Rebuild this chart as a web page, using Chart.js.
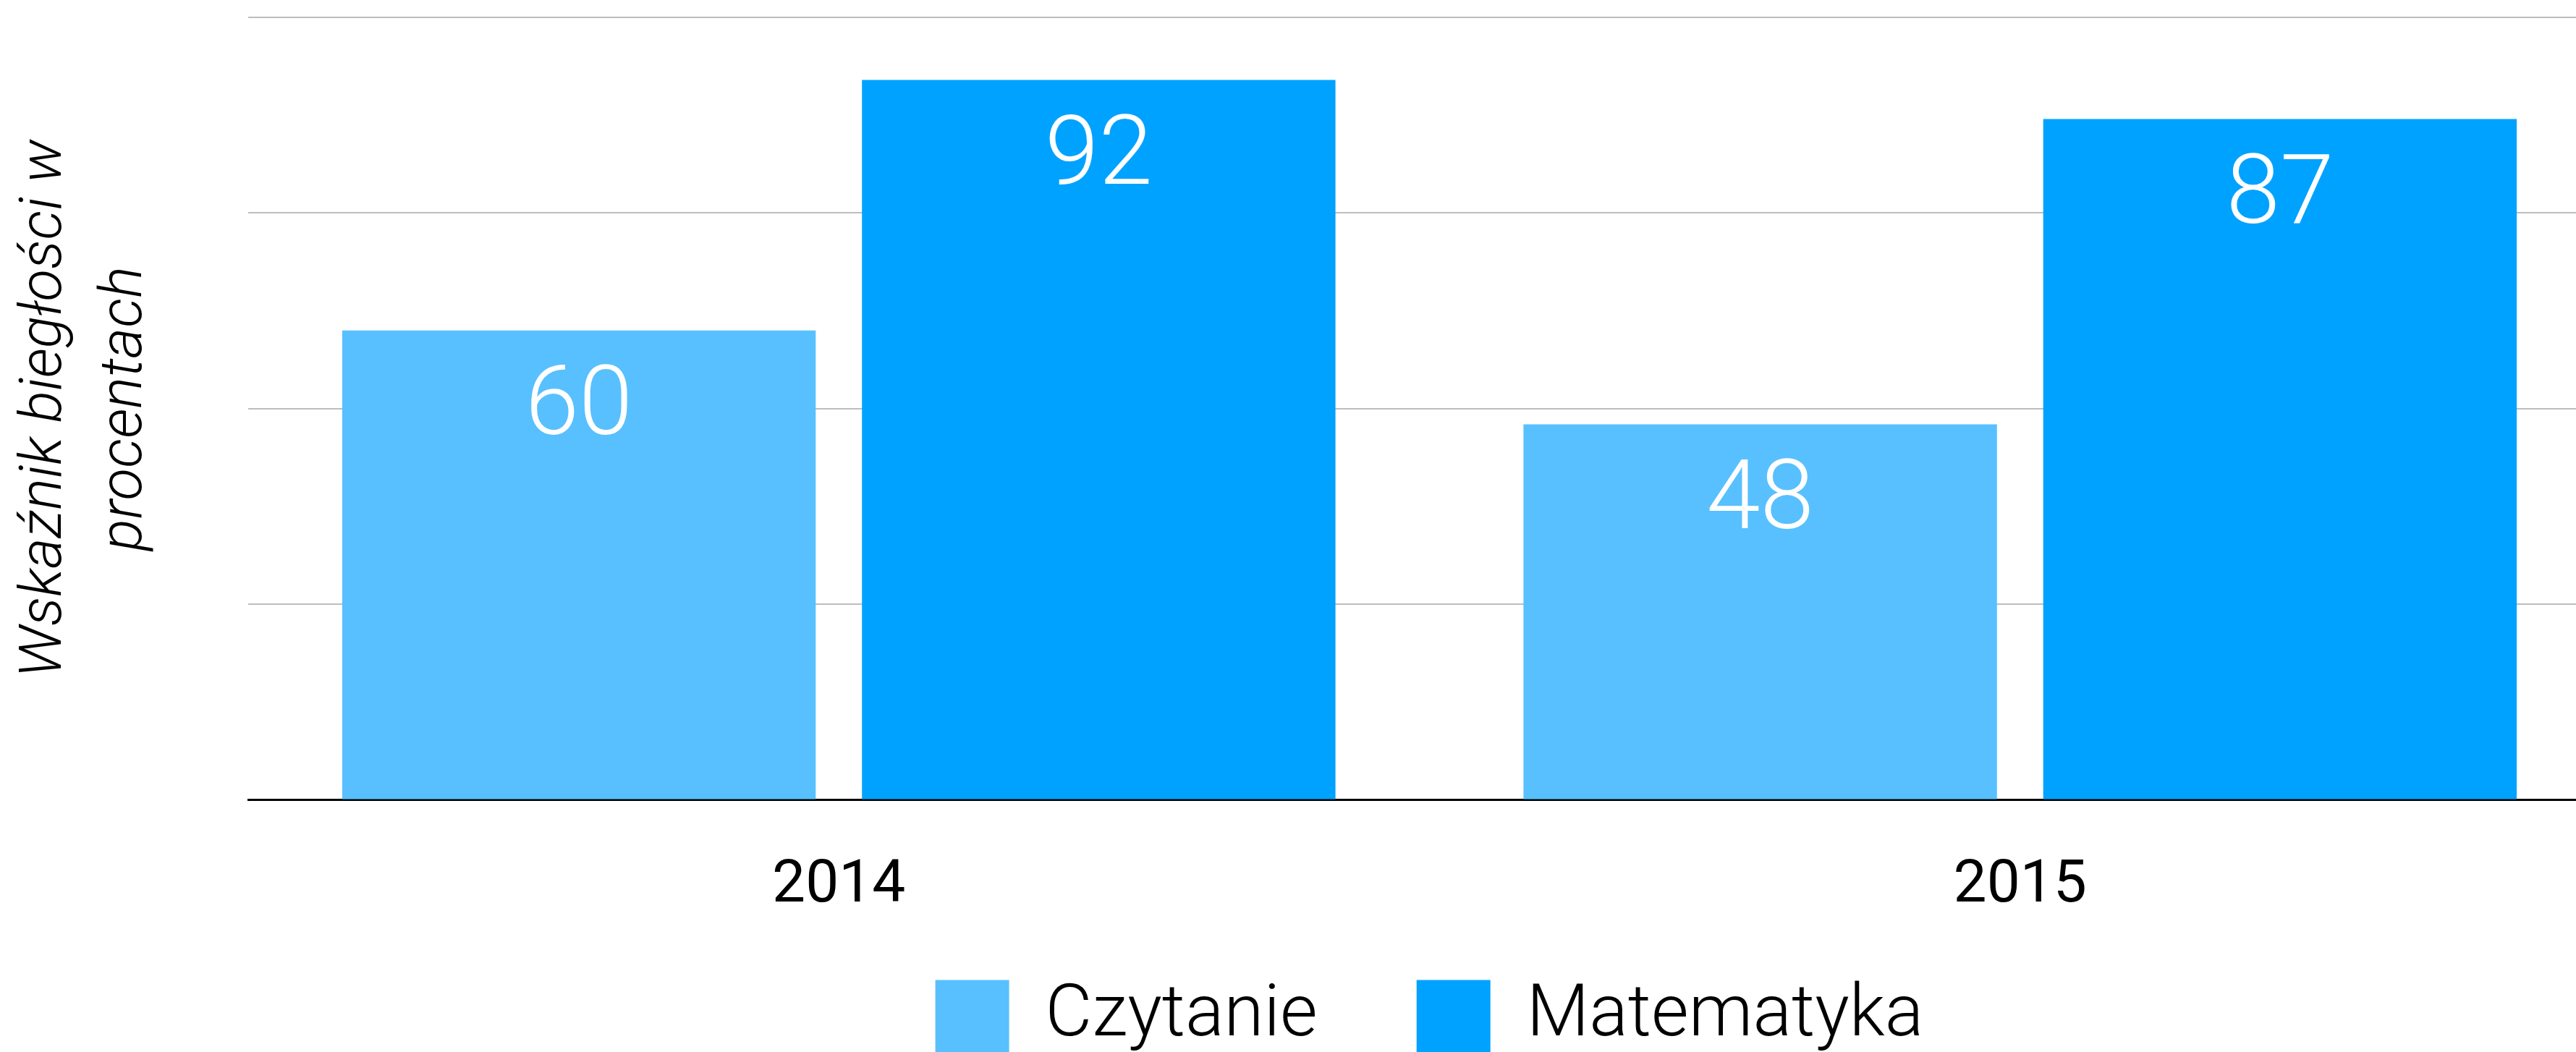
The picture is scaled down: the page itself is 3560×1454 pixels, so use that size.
<!DOCTYPE html>
<html>
<head>
<meta charset="utf-8">
<script src="https://cdn.jsdelivr.net/npm/chart.js@4"></script>
<style>
  html, body { margin: 0; padding: 0; background: #fff; overflow: hidden; }
  #wrap { width: 3608px; height: 1587px; position: relative; }
</style>
</head>
<body>
<div id="wrap"><canvas id="barChart"></canvas></div>
<script>
// Chart data
const years = ['2014', '2015'];
const seriesNames = ['Czytanie', 'Matematyka'];
const czytanie = [60, 48];
const matematyka = [92, 87];
const yTitle = ['Wskaźnik biegłości w', 'procentach'];

const FONT = 'Roboto, "Liberation Sans", sans-serif';

// Draw the value inside each bar, near its top
const valueLabels = {
  id: 'valueLabels',
  afterDatasetsDraw(chart) {
    const ctx = chart.ctx;
    ctx.save();
    ctx.fillStyle = '#ffffff';
    ctx.font = '300 134px ' + FONT;
    ctx.textAlign = 'center';
    ctx.textBaseline = 'middle';
    chart.data.datasets.forEach((ds, i) => {
      chart.getDatasetMeta(i).data.forEach((bar, j) => {
        ctx.fillText(String(ds.data[j]), bar.x, bar.y + 110);
      });
    });
    ctx.restore();
  }
};

// Pull the legend up a bit closer to the year labels
const legendShift = {
  id: 'legendShift',
  afterLayout(chart) {
    const lg = chart.legend;
    const h = lg.height;
    lg.top = chart.scales.x.top + 112;
    lg.bottom = lg.top + h;
  }
};

const ctx = document.getElementById('barChart').getContext('2d');
new Chart(ctx, {
  type: 'bar',
  data: {
    labels: years,
    datasets: [{
      label: seriesNames[0],
      data: czytanie,
      backgroundColor: '#58C0FE'
    }, {
      label: seriesNames[1],
      data: matematyka,
      backgroundColor: '#00A2FF'
    }]
  },
  options: {
    responsive: true,
    maintainAspectRatio: false,
    animation: false,
    layout: { padding: { top: 24, left: 0, right: 0, bottom: 0 } },
    datasets: {
      bar: { categoryPercentage: 0.88, barPercentage: 0.911 }
    },
    plugins: {
      tooltip: { enabled: false },
      legend: {
        position: 'bottom',
        fullSize: false,
        labels: {
          boxWidth: 102,
          boxHeight: 102,
          padding: 137,
          color: '#000',
          font: { family: FONT, size: 100, weight: '300' }
        }
      }
    },
    scales: {
      x: {
        grid: { display: false },
        border: { display: true, color: '#000', width: 3 },
        ticks: {
          color: '#000',
          padding: 63,
          font: { family: FONT, size: 82 }
        }
      },
      y: {
        min: 0,
        max: 100,
        border: { display: false },
        grid: {
          drawTicks: false,
          lineWidth: 2,
          color: c => c.tick && c.tick.value === 0 ? 'transparent' : '#BDBDBD'
        },
        ticks: { display: false, stepSize: 25 },
        title: {
          display: true,
          text: yTitle,
          color: '#000',
          padding: { top: 8, bottom: 0 },
          font: { family: FONT, size: 82, style: 'italic', weight: '300', lineHeight: 1.35 }
        },
        afterFit(axis) { axis.width = 343; }
      }
    }
  },
  plugins: [valueLabels, legendShift]
});
</script>
</body>
</html>
